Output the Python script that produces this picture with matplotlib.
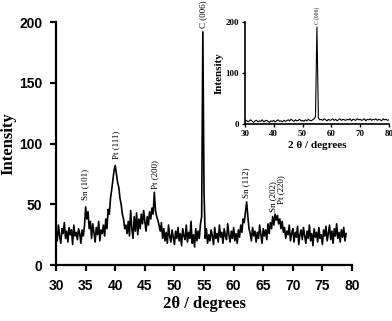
import numpy as np
import matplotlib
matplotlib.use('Agg')
import matplotlib.pyplot as plt

# main XRD pattern, 0.2 degree steps from 30 to 79
two_theta_start = 30.0
two_theta_step = 0.2
intensity = [
    27, 20, 33, 24, 18, 30, 26, 35, 22, 28,
    19, 31, 25, 29, 17, 33, 24, 27, 21, 30,
    26, 18, 29, 24, 32, 48, 38, 44, 30, 36,
    22, 34, 27, 19, 31, 25, 36, 20, 29, 26,
    33, 24, 38, 30, 46, 42, 55, 62, 70, 78,
    82, 75, 68, 64, 55, 50, 42, 38, 30, 33,
    26, 36, 24, 45, 30, 22, 40, 28, 43, 25,
    38, 30, 42, 34, 45, 36, 28, 40, 33, 44,
    38, 47, 42, 60, 45, 40, 37, 33, 28, 35,
    22, 30, 20, 27, 18, 33, 24, 19, 29, 23,
    17, 28, 22, 31, 20, 26, 16, 30, 24, 21,
    33, 19, 27, 22, 36, 18, 25, 15, 30, 20,
    28, 22, 34, 40, 192, 60, 22, 30, 18, 25,
    20, 29, 24, 17, 31, 22, 26, 19, 33, 23,
    27, 18, 30, 24, 21, 34, 25, 19, 28, 22,
    31, 20, 26, 18, 29, 23, 33, 27, 38, 35,
    44, 52, 40, 30, 26, 20, 31, 24, 28, 19,
    27, 22, 33, 25, 18, 30, 24, 29, 21, 34,
    26, 35, 30, 40, 33, 42, 37, 41, 34, 38,
    30, 36, 27, 31, 22, 28, 25, 33, 20, 26,
    30, 19, 27, 23, 32, 17, 25, 29, 21, 31,
    24, 18, 28, 22, 33, 20, 26, 16, 30, 23,
    27, 19, 31, 22, 25, 17, 29, 24, 32, 20,
    26, 33, 21, 28, 18, 30, 24, 34, 22, 27,
    19, 29, 23, 31, 20, 26,
]

# inset pattern, 0.5 degree steps from 30 to 80
inset_start = 30.0
inset_step = 0.5
inset_intensity = [
    5, 7, 4, 6, 8, 5, 3, 6, 7, 4,
    6, 5, 8, 4, 6, 7, 5, 3, 6, 5,
    7, 4, 6, 8, 5, 6, 4, 7, 5, 6,
    8, 6, 9, 7, 5, 8, 6, 7, 9, 6,
    7, 5, 8, 6, 9, 7, 6, 8, 10, 14,
    190, 12, 8, 9, 7, 10, 8, 6, 9, 7,
    8, 10, 7, 9, 6, 8, 10, 7, 9, 8,
    7, 9, 8, 10, 6, 9, 8, 7, 10, 8,
    9, 7, 8, 10, 6, 9, 8, 10, 7, 9,
    8, 10, 7, 9, 8, 6, 10, 8, 9, 7,
    8,
]

# peak labels: text, position, intensity where label starts
peak_labels = ['Sn (101)', 'Pt (111)', 'Pt (200)', 'C (006)', 'Sn (112)', 'Sn (202)', 'Pt (220)']
peak_pos = [35.0, 40.1, 46.7, 54.8, 62.2, 66.6, 68.0]
peak_height = [54, 87, 63, 195, 55, 44, 50]

x = two_theta_start + two_theta_step * np.arange(len(intensity))
xi = inset_start + inset_step * np.arange(len(inset_intensity))

serif_bold = {'family': 'Liberation Serif', 'weight': 'bold'}

fig = plt.figure(figsize=(3.92, 3.21), dpi=100)
ax = fig.add_axes([0.143, 0.174, 0.755, 0.757])
ax.plot(x, intensity, color='black', lw=1.2)
ax.set_xlim(30, 80)
ax.set_ylim(0, 200)
ax.set_xticks(np.arange(30, 81, 5))
ax.set_yticks([0, 50, 100, 150, 200])
for s in ['top', 'right']:
    ax.spines[s].set_visible(False)
for s in ['left', 'bottom']:
    ax.spines[s].set_linewidth(1.6)
ax.tick_params(direction='out', length=4, width=1.6, pad=6)
for lab in ax.get_xticklabels() + ax.get_yticklabels():
    lab.set_fontfamily('Liberation Sans')
    lab.set_fontweight('bold')
    lab.set_fontsize(10)
ax.set_xlabel('2\u03b8 / degrees', fontdict=serif_bold, fontsize=12, labelpad=2)
ax.set_ylabel('Intensity', fontdict=serif_bold, fontsize=12)
ax.yaxis.set_label_coords(-0.135, 0.5)

for t, p, h in zip(peak_labels, peak_pos, peak_height):
    ax.text(p, h, t, rotation=90, ha='center', va='bottom', fontsize=6.5,
            family='Liberation Serif', clip_on=False)

# inset
axi = fig.add_axes([0.625, 0.614, 0.367, 0.318])
axi.plot(xi, inset_intensity, color='black', lw=0.8)
axi.set_xlim(30, 80)
axi.set_ylim(0, 200)
axi.set_xticks([30, 40, 50, 60, 70, 80])
axi.set_yticks([0, 100, 200])
for s in ['top', 'right']:
    axi.spines[s].set_visible(False)
for s in ['left', 'bottom']:
    axi.spines[s].set_linewidth(1.2)
axi.tick_params(direction='out', length=2.5, width=1, pad=2)
for lab in axi.get_xticklabels() + axi.get_yticklabels():
    lab.set_fontfamily('Liberation Serif')
    lab.set_fontweight('bold')
    lab.set_fontsize(6.5)
axi.set_xlabel('2 \u03b8 / degrees', fontdict=serif_bold, fontsize=8, labelpad=2)
axi.set_ylabel('Intensity', fontdict=serif_bold, fontsize=8, labelpad=1)
axi.text(55.0, 195, 'C (006)', rotation=90, ha='center', va='bottom', fontsize=4,
         family='Liberation Serif', clip_on=False)

fig.savefig('out.png', dpi=100)
